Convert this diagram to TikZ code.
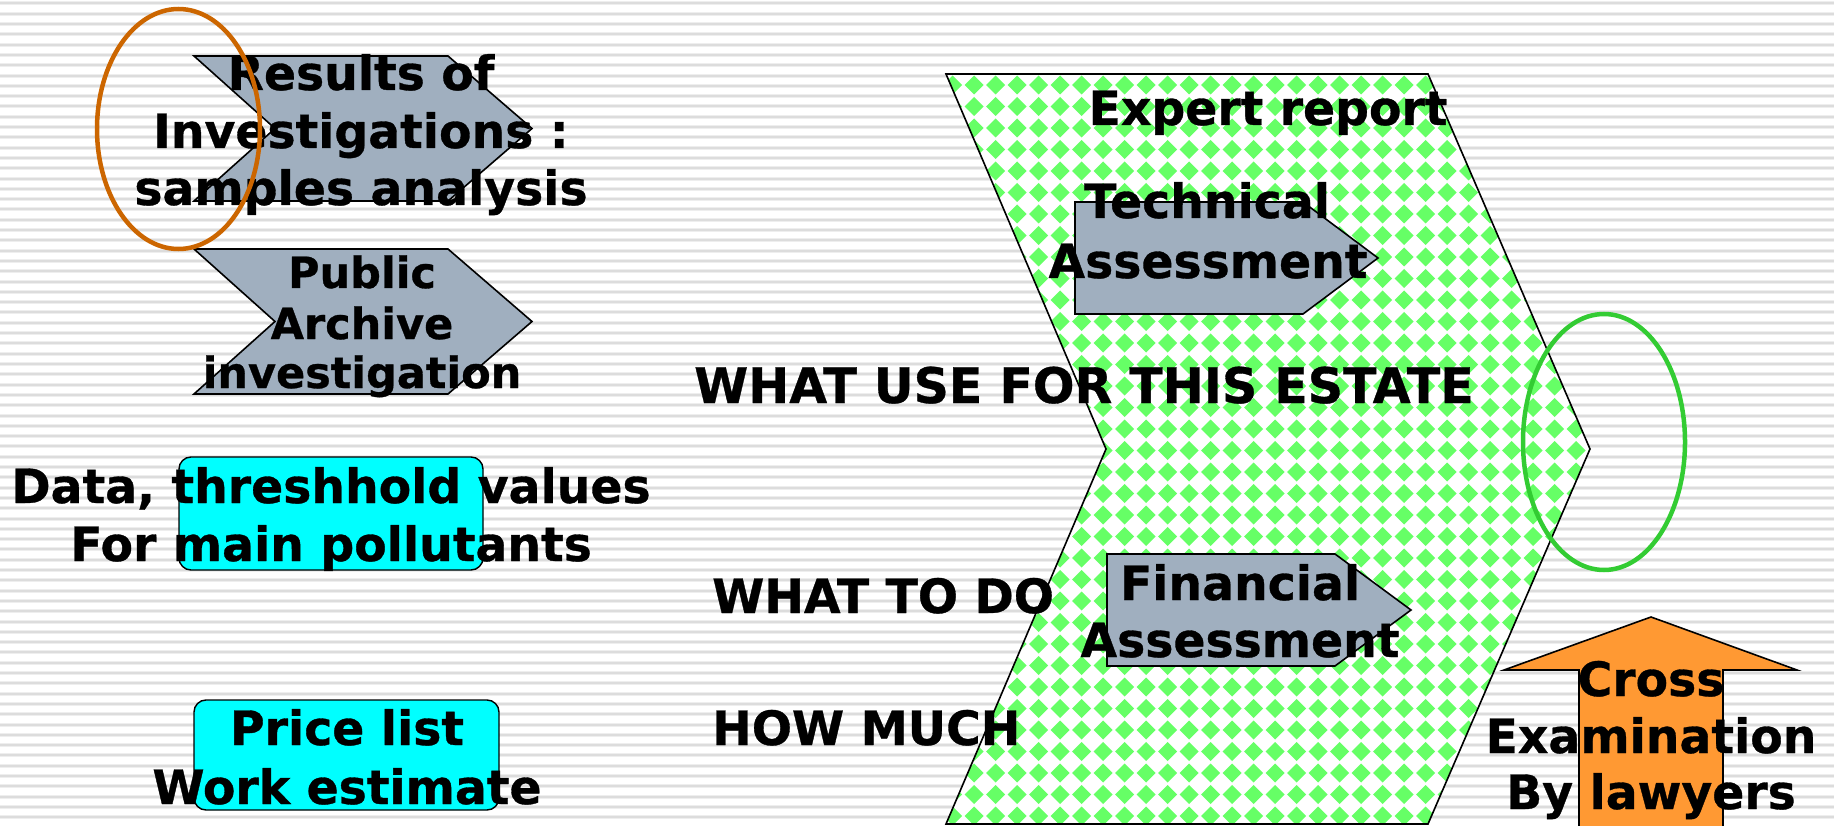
\documentclass[tikz,border=0pt]{standalone}
\usepackage{fontspec}
\setmainfont{DejaVu Sans}[BoldFeatures={FakeBold=0.7}]
\definecolor{chevgray}{RGB}{160,175,191}
\definecolor{stripegray}{RGB}{220,220,220}
\definecolor{stripelight}{RGB}{238,238,238}
\definecolor{diagreen}{RGB}{102,255,102}
\definecolor{ringorange}{RGB}{204,102,0}
\definecolor{ringgreen}{RGB}{51,204,51}
\definecolor{arroworange}{RGB}{255,153,51}
\definecolor{boxcyan}{RGB}{0,255,255}
\begin{document}
\begin{tikzpicture}[x=1pt,y=-1pt,
  txt/.style={font=\bfseries\fontsize{47.3}{57}\selectfont, inner sep=0pt, anchor=base},
  bigtxt/.style={font=\bfseries\fontsize{49}{57}\selectfont, inner sep=0pt, anchor=base},
  smalltxt/.style={font=\bfseries\fontsize{43}{50}\selectfont, inner sep=0pt, anchor=base},
  lefttxt/.style={txt, anchor=base west},
  chevron/.style={fill=chevgray, draw=black, line width=1.6pt, line join=miter},
  cyanbox/.style={fill=boxcyan, draw=black, line width=1.4pt, rounded corners=12pt},
  outline/.style={draw=black, line width=1.6pt},
  ring/.style={line width=4.5pt},
  stripeA/.style={stripelight, line width=4pt},
  stripeB/.style={stripegray, line width=2pt},
  diamond/.style={fill=diagreen}
]
\useasboundingbox (0,0) rectangle (1834,826);
% background stripes
\fill[white] (0,0) rectangle (1834,826);
\foreach \k in {0,...,80} {
  \draw[stripeA] (0,{3.5+10.3*\k}) -- (1834,{3.5+10.3*\k});
  \draw[stripeB] (0,{3.5+10.3*\k}) -- (1834,{3.5+10.3*\k});
}

% left chevrons
\draw[chevron] (194,56) -- (448,56) -- (532,128.5) -- (448,201) -- (194,201) -- (275,128.5) -- cycle;
\draw[chevron] (194,249) -- (448,249) -- (532,321.5) -- (448,394) -- (194,394) -- (275,321.5) -- cycle;

% cyan boxes
\draw[cyanbox] (179,457) rectangle (483,570);
\draw[cyanbox] (194,700) rectangle (499,810);

% big patterned shape
\begin{scope}
  \clip (946,74) -- (1428,74) -- (1590,449) -- (1428,824) -- (946,824) -- (1106,449) -- cycle;
  \fill[white] (940,70) rectangle (1600,830);
  \foreach \j in {0,...,36} {
    \foreach \i in {0,...,31} {
      \fill[diamond, shift={({931+21.5*\i},{63.5+21.5*\j})}] (-9.5,0) -- (0,-9.5) -- (9.5,0) -- (0,9.5) -- cycle;
    }
  }
\end{scope}
\draw[outline] (946,74) -- (1428,74) -- (1590,449) -- (1428,824) -- (946,824) -- (1106,449) -- cycle;

% inner arrows
\draw[chevron] (1075,202) -- (1303,202) -- (1378,258) -- (1303,314) -- (1075,314) -- cycle;
\draw[chevron] (1107,554) -- (1335,554) -- (1411,610) -- (1335,666) -- (1107,666) -- cycle;

% orange up arrow
\draw[fill=arroworange, outline] (1579,830) -- (1579,670) -- (1504,670) -- (1651,617) -- (1797,670) -- (1723,670) -- (1723,830) -- cycle;

% green ring
\draw[ring, ringgreen] (1604,442) ellipse [x radius=81, y radius=128];

% texts
\node[txt] (res1) at (361,90) {Results of};
\node[txt] (res2) at (361,148) {Investigations :};
\node[txt] (res3) at (361,205) {samples analysis};

\node[smalltxt] (pub1) at (362,288) {Public};
\node[smalltxt] (pub2) at (362,339) {Archive};
\node[smalltxt] (pub3) at (362,388) {investigation};

\node[txt] (data1) at (331,503) {Data, threshhold values};
\node[txt] (data2) at (331,561) {For main pollutants};

\node[txt] (price1) at (347,745) {Price list};
\node[txt] (price2) at (347,804) {Work estimate};

\node[txt] (expert) at (1268,125) {Expert report};
\node[txt] (tech1) at (1207,218) {Technical};
\node[txt] (tech2) at (1208,278) {Assessment};

\node[bigtxt] (whatuse) at (1084,403) {WHAT USE FOR THIS ESTATE};
\node[lefttxt] (whatdo) at (712,613) {WHAT TO DO};
\node[lefttxt] (howmuch) at (712,745) {HOW MUCH};

\node[txt] (fin1) at (1240,600) {Financial};
\node[txt] (fin2) at (1240,657) {Assessment};

\node[txt] (cross1) at (1651,696) {Cross};
\node[txt] (cross2) at (1651,753) {Examination};
\node[txt] (cross3) at (1651,809) {By lawyers};

% orange ring
\draw[ring, ringorange] (178.5,129) ellipse [x radius=81.5, y radius=120];
\end{tikzpicture}
\end{document}
